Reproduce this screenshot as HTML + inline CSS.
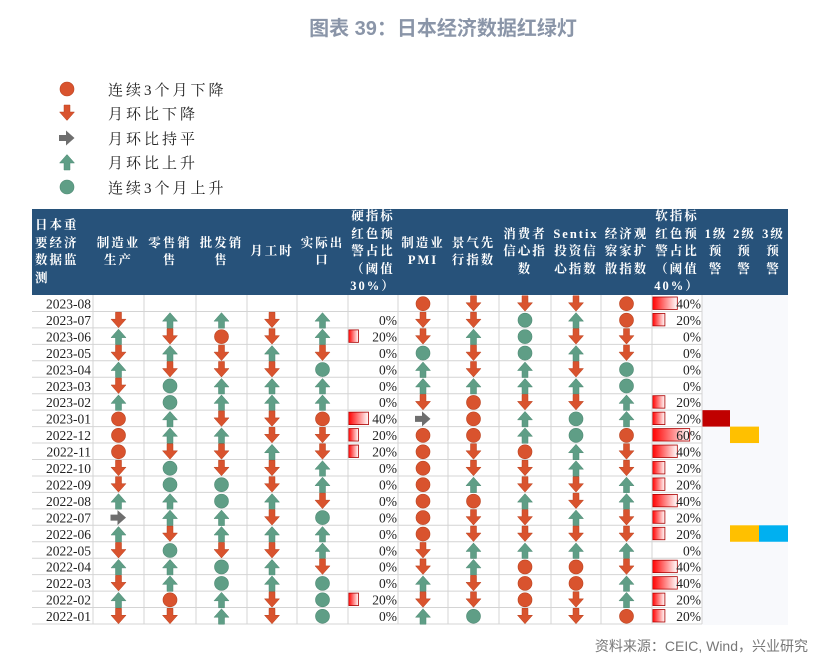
<!DOCTYPE html>
<html><head><meta charset="utf-8">
<style>
body{margin:0;width:823px;height:671px;background:#fff;position:relative;overflow:hidden;font-family:"Liberation Serif","Noto Serif CJK SC",serif;}
.title{position:absolute;left:0;width:886px;top:12px;text-align:center;font:bold 20px "Liberation Sans","Noto Sans CJK SC",sans-serif;color:#8a95a8;}
.src{position:absolute;right:15px;top:636px;font:14px "Liberation Sans","Noto Sans CJK SC",sans-serif;color:#777;}
.lg{position:absolute;left:108px;font-size:15px;color:#222;letter-spacing:3px;font-family:"Liberation Serif","Noto Serif CJK SC",serif;}
.hd{position:absolute;top:209px;height:86px;display:flex;align-items:center;justify-content:center;text-align:center;color:#fff;font-weight:bold;font-size:12.5px;line-height:17.5px;letter-spacing:2px;white-space:nowrap;}
</style></head><body>
<div class="title">图表 39：日本经济数据红绿灯</div>
<div class="lg" style="top:79px">连续3个月下降</div>
<div class="lg" style="top:103px">月环比下降</div>
<div class="lg" style="top:128px">月环比持平</div>
<div class="lg" style="top:152px">月环比上升</div>
<div class="lg" style="top:177px">连续3个月上升</div>
<svg id="s" width="823" height="671" style="position:absolute;left:0;top:0">
<defs><linearGradient id="gr" x1="0" x2="1"><stop offset="0" stop-color="#f00"/><stop offset="1" stop-color="#fff"/></linearGradient></defs>
</svg>
<div id="h"></div>
<div class="src">资料来源：CEIC, Wind，兴业研究</div>
<script>
(function(){
var s=document.getElementById('s'),out='';
var R='#d9532e',G='#5f9e86';
function circ(x,y,c){return '<circle cx="'+x+'" cy="'+y+'" r="7" fill="'+c+'" stroke="'+(c==R?'#b9421f':'#4f8a74')+'" stroke-width="0.6"/>';}
function down(x,y){return '<path d="M'+(x-3)+' '+(y-8)+'h6v7h4.5l-7.5 8.5l-7.5-8.5h4.5z" fill="'+R+'" stroke="#b9421f" stroke-width="0.5"/>';}
function up(x,y){return '<path d="M'+(x-3)+' '+(y+8)+'h6v-7h4.5l-7.5-8.5l-7.5 8.5h4.5z" fill="'+G+'" stroke="#4f8a74" stroke-width="0.5"/>';}
function side(x,y){return '<path d="M'+(x-8)+' '+(y-3)+'h7v-4.5l8.5 7.5l-8.5 7.5v-4.5h-7z" fill="#6e6e6e"/>';}
function ic(t,x,y){return t=='R'?circ(x,y,R):t=='G'?circ(x,y,G):t=='D'?down(x,y):t=='U'?up(x,y):t=='S'?side(x,y):'';}
out+=circ(67,89,R)+down(67,113)+side(67,138)+up(67,162)+circ(67,187,G);
out+='<rect x="32" y="209" width="756" height="86" fill="#27527a"/>';
out+='<rect x="702" y="295" width="86" height="330" fill="#f8f9fc"/>';
var rows=[
['2023-08','-----',-1,'RDDDR',40,''],
['2023-07','DUUDU',0,'DDGUR',20,''],
['2023-06','UDRDU',20,'DUGDD',0,''],
['2023-05','DUDUD',0,'GDGUD',0,''],
['2023-04','UDDDG',0,'UDUDG',0,''],
['2023-03','DGUUU',0,'UUUUG',0,''],
['2023-02','UGUUU',0,'DRDDU',20,''],
['2023-01','RUDDR',40,'SRUGU',20,'1'],
['2022-12','RUUDD',20,'RRUGR',60,'2'],
['2022-11','RDDUD',20,'RDRUD',40,''],
['2022-10','DGDDU',0,'RDDUD',20,''],
['2022-09','DGGDU',0,'RUDDU',20,''],
['2022-08','UUGUD',0,'RRUDU',40,''],
['2022-07','SUUDG',0,'RDDUD',20,''],
['2022-06','UDUUU',0,'RDDDD',20,'23'],
['2022-05','DGDDU',0,'DUUUU',0,''],
['2022-04','UUGUD',0,'DURRD',40,''],
['2022-03','DUGUG',0,'UDRRU',40,''],
['2022-02','URUDG',20,'DDRDU',20,''],
['2022-01','DDUDG',0,'UGDDR',20,'']];
var T0=295,rh=16.45;
var hx=[93,144,196,247,297,348],sx=[398,448,499,551,601,652];
for(var i=0;i<rows.length;i++){
 var r=rows[i],y0=T0+i*rh,cy=y0+rh/2+0.5;
 out+='<line x1="32" x2="702" y1="'+(y0+rh)+'" y2="'+(y0+rh)+'" stroke="#d4d4d4"/>';
 out+='<text x="91" y="'+(cy+4.8)+'" text-anchor="end" font-size="13.5" fill="#222">'+r[0]+'</text>';
 for(var j=0;j<5;j++){out+=ic(r[1][j],(hx[j]+hx[j+1])/2,cy);out+=ic(r[3][j],(sx[j]+sx[j+1])/2,cy);}
 if(r[2]>=0){ if(r[2]>0)out+='<rect x="348.5" y="'+(y0+2)+'" width="'+(r[2]/2)+'" height="'+(rh-4)+'" fill="url(#gr)" stroke="#a00" stroke-width="0.8"/>';
  out+='<text x="397" y="'+(cy+4.8)+'" text-anchor="end" font-size="13.5" fill="#222">'+r[2]+'%</text>';}
 out+='<rect x="652.5" y="'+(y0+2)+'" width="'+(r[4]*0.62)+'" height="'+(rh-4)+'" fill="url(#gr)" stroke="#a00" stroke-width="0.8"/>';
 out+='<text x="701" y="'+(cy+4.8)+'" text-anchor="end" font-size="13.5" fill="#222">'+r[4]+'%</text>';
 if(r[5].indexOf('1')>=0)out+='<rect x="702" y="'+y0+'" width="28" height="'+rh+'" fill="#c00000"/>';
 if(r[5].indexOf('2')>=0)out+='<rect x="730" y="'+y0+'" width="29" height="'+rh+'" fill="#ffc000"/>';
 if(r[5].indexOf('3')>=0)out+='<rect x="759" y="'+y0+'" width="29" height="'+rh+'" fill="#00b0f0"/>';
}
var vx=[93,144,196,247,297,348,398,448,499,551,601,652,702];
for(var k=0;k<vx.length;k++)out+='<line x1="'+vx[k]+'" x2="'+vx[k]+'" y1="295" y2="624" stroke="#d4d4d4"/>';
s.innerHTML+=out;
var H=[[32,61,'日本重<br>要经济<br>数据监<br>测',1],[93,51,'制造业<br>生产'],[144,52,'零售销<br>售'],[196,51,'批发销<br>售'],[247,50,'月工时'],[297,51,'实际出<br>口'],[348,50,'硬指标<br>红色预<br>警占比<br>（阈值<br>30%）'],
[398,50,'制造业<br>PMI'],[448,51,'景气先<br>行指数'],[499,52,'消费者<br>信心指<br>数'],[551,50,'Sentix<br>投资信<br>心指数'],[601,51,'经济观<br>察家扩<br>散指数'],[652,50,'软指标<br>红色预<br>警占比<br>（阈值<br>40%）'],[702,28,'1级<br>预<br>警'],[730,29,'2级<br>预<br>警'],[759,29,'3级<br>预<br>警']];
var hh='';
H.forEach(function(c){hh+='<div class="hd" style="left:'+c[0]+'px;width:'+c[1]+'px;'+(c[3]?'justify-content:flex-start;text-align:left;padding-left:3px;':'')+'"><div>'+c[2]+'</div></div>';});
document.getElementById('h').innerHTML=hh;
})();
</script>
</body></html>
